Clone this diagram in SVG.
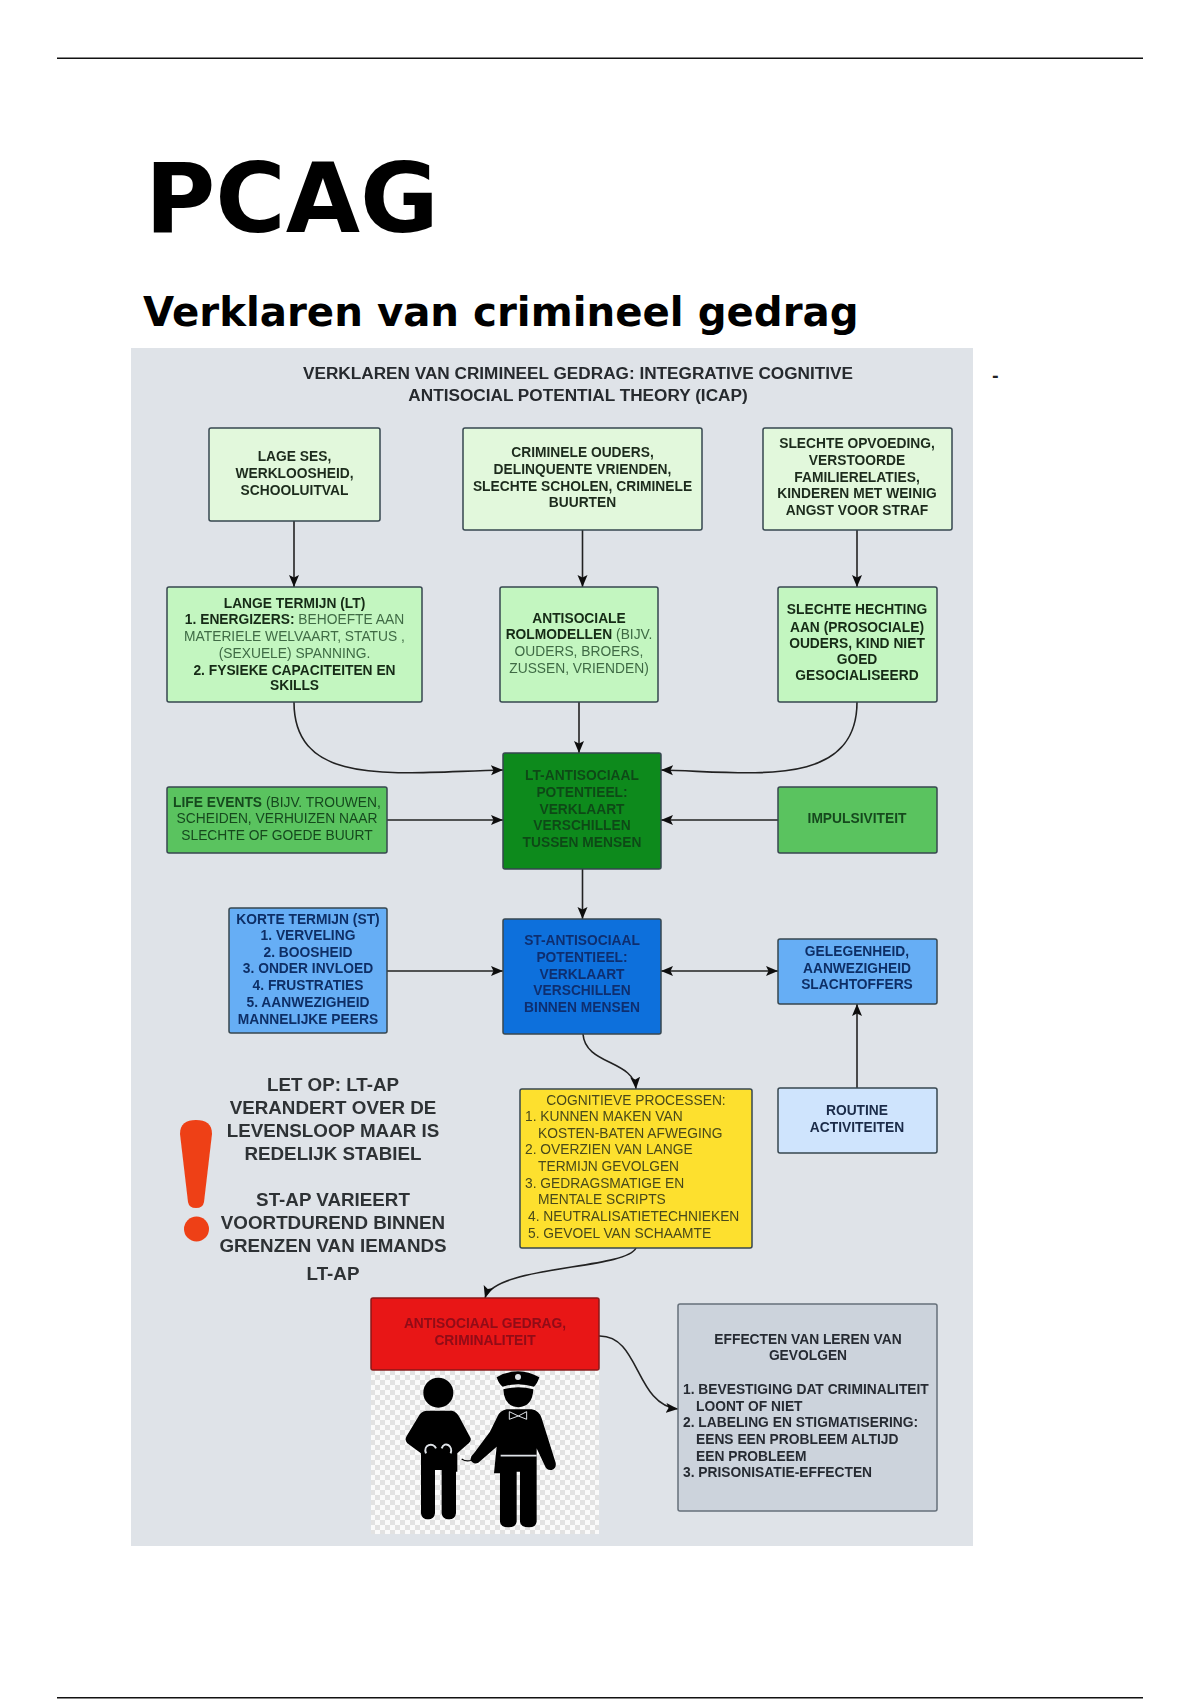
<svg xmlns="http://www.w3.org/2000/svg" width="1200" height="1700" viewBox="0 0 1200 1700">
<style>
.h{font-family:"DejaVu Sans",sans-serif;font-weight:bold;fill:#000}
.t{font-family:"Liberation Sans",Arial,sans-serif;font-size:13.800px;font-weight:bold;text-anchor:middle}
.l{text-anchor:start}
.n{font-weight:normal}
.box{stroke:#37474f;stroke-width:1.5}
.c{fill:none;stroke:#222;stroke-width:1.6}
.note{font-family:"Liberation Sans",Arial,sans-serif;font-size:18.800px;font-weight:bold;text-anchor:middle;fill:#2f3336}
.fig{fill:#000}
</style>
<defs>
<marker id="a" markerUnits="userSpaceOnUse" markerWidth="14" markerHeight="12" refX="12" refY="6" orient="auto-start-reverse"><path d="M0 1L12 6L0 11L2.500 6Z" fill="#111"/></marker>
<pattern id="chk" width="10" height="10" patternUnits="userSpaceOnUse"><rect width="10" height="10" fill="#fafafa"/><rect width="5" height="5" fill="#e2e2e2"/><rect x="5" y="5" width="5" height="5" fill="#e2e2e2"/></pattern>
<filter id="soft" x="-2%" y="-2%" width="104%" height="104%"><feGaussianBlur stdDeviation="0.7"/></filter>
</defs>
<rect width="1200" height="1700" fill="#fff"/>
<g id="page-rules"><rect x="57" y="57.500" width="1086" height="1.500" fill="#111"/><rect x="57" y="1697" width="1086" height="1.500" fill="#111"/></g>
<text class="h" x="145" y="232" font-size="96">PCAG</text>
<text class="h" x="143" y="326" font-size="40.300">Verklaren van crimineel gedrag</text>
<text x="992" y="381" font-family="DejaVu Sans,sans-serif" font-size="16" font-weight="bold" fill="#222">-</text>
<g id="figure" filter="url(#soft)">
<rect id="panel" x="131" y="348" width="842" height="1198" fill="#dfe3e8"/>
<text class="t" style="font-size:17.200px" fill="#26292d" x="578" y="379">VERKLAREN VAN CRIMINEEL GEDRAG: INTEGRATIVE COGNITIVE</text>
<text class="t" style="font-size:17.200px" fill="#26292d" x="578" y="401">ANTISOCIAL POTENTIAL THEORY (ICAP)</text>
<g id="connectors">
<path class="c" marker-end="url(#a)" d="M294 521V587"/>
<path class="c" marker-end="url(#a)" d="M582.500 530V587"/>
<path class="c" marker-end="url(#a)" d="M857 530V587"/>
<path class="c" marker-end="url(#a)" d="M579 702V753"/>
<path class="c" marker-end="url(#a)" d="M294 702C294 790 400 772 503 770"/>
<path class="c" marker-end="url(#a)" d="M857 702C857 790 750 772 661 770"/>
<path class="c" marker-end="url(#a)" d="M387 820H503"/>
<path class="c" marker-end="url(#a)" d="M778 820H661"/>
<path class="c" marker-end="url(#a)" d="M582.500 869V919"/>
<path class="c" marker-end="url(#a)" d="M387 971H503"/>
<path class="c" marker-start="url(#a)" marker-end="url(#a)" d="M661 971H778"/>
<path class="c" marker-end="url(#a)" d="M857 1088V1004"/>
<path class="c" marker-end="url(#a)" d="M583 1034C585 1065 634 1060 636 1089"/>
<path class="c" marker-end="url(#a)" d="M636 1248C625 1270 495 1265 485 1298"/>
<path class="c" marker-end="url(#a)" d="M599 1336C640 1335 635 1405 678 1409"/>
</g>
<g id="n-lage"><rect class="box" x="209" y="428" width="171" height="93" rx="2" fill="#e2f8dc"/><text class="t" fill="#1c2b1c"><tspan x="294.500" y="461">LAGE SES,</tspan><tspan x="294.500" y="478">WERKLOOSHEID,</tspan><tspan x="294.500" y="495">SCHOOLUITVAL</tspan></text></g>
<g id="n-crim"><rect class="box" x="463" y="428" width="239" height="102" rx="2" fill="#e2f8dc"/><text class="t" fill="#1c2b1c"><tspan x="582.500" y="457">CRIMINELE OUDERS,</tspan><tspan x="582.500" y="474">DELINQUENTE VRIENDEN,</tspan><tspan x="582.500" y="491">SLECHTE SCHOLEN, CRIMINELE</tspan><tspan x="582.500" y="507">BUURTEN</tspan></text></g>
<g id="n-opv"><rect class="box" x="763" y="428" width="189" height="102" rx="2" fill="#e2f8dc"/><text class="t" fill="#1c2b1c"><tspan x="857" y="448">SLECHTE OPVOEDING,</tspan><tspan x="857" y="465">VERSTOORDE</tspan><tspan x="857" y="482">FAMILIERELATIES,</tspan><tspan x="857" y="498">KINDEREN MET WEINIG</tspan><tspan x="857" y="515">ANGST VOOR STRAF</tspan></text></g>
<g id="n-lt"><rect class="box" x="167" y="587" width="255" height="115" rx="2" fill="#c3f6c0"/><text class="t" fill="#152a15"><tspan x="294.500" y="608">LANGE TERMIJN (LT)</tspan><tspan x="294.500" y="624">1. ENERGIZERS:  <tspan class="n" fill="#3f6b45">BEHOEFTE AAN</tspan></tspan><tspan class="n" fill="#3f6b45" x="294.500" y="641">MATERIELE WELVAART, STATUS ,</tspan><tspan class="n" fill="#3f6b45" x="294.500" y="658">(SEXUELE) SPANNING.</tspan><tspan x="294.500" y="675">2. FYSIEKE CAPACITEITEN EN</tspan><tspan x="294.500" y="690">SKILLS</tspan></text></g>
<g id="n-rol"><rect class="box" x="500" y="587" width="158" height="115" rx="2" fill="#c3f6c0"/><text class="t" fill="#152a15"><tspan x="579" y="623">ANTISOCIALE</tspan><tspan x="579" y="639">ROLMODELLEN <tspan class="n" fill="#3f6b45">(BIJV.</tspan></tspan><tspan class="n" fill="#3f6b45" x="579" y="656">OUDERS, BROERS,</tspan><tspan class="n" fill="#3f6b45" x="579" y="673">ZUSSEN, VRIENDEN)</tspan></text></g>
<g id="n-hecht"><rect class="box" x="778" y="587" width="159" height="115" rx="2" fill="#c3f6c0"/><text class="t" fill="#152a15"><tspan x="857" y="614">SLECHTE HECHTING</tspan><tspan x="857" y="632">AAN (PROSOCIALE)</tspan><tspan x="857" y="648">OUDERS, KIND NIET</tspan><tspan x="857" y="664">GOED</tspan><tspan x="857" y="680">GESOCIALISEERD</tspan></text></g>
<g id="n-ltap"><rect class="box" x="503" y="753" width="158" height="116" rx="2" fill="#0f8a1f"/><text class="t" fill="#0a4a18"><tspan x="582" y="780">LT-ANTISOCIAAL</tspan><tspan x="582" y="797">POTENTIEEL:</tspan><tspan x="582" y="814">VERKLAART</tspan><tspan x="582" y="830">VERSCHILLEN</tspan><tspan x="582" y="847">TUSSEN MENSEN</tspan></text></g>
<g id="n-life"><rect class="box" x="167" y="787" width="220" height="66" rx="2" fill="#5ac35f"/><text class="t" fill="#16491f"><tspan x="277" y="807">LIFE EVENTS <tspan class="n">(BIJV. TROUWEN,</tspan></tspan><tspan class="n" x="277" y="823">SCHEIDEN, VERHUIZEN NAAR</tspan><tspan class="n" x="277" y="840">SLECHTE OF GOEDE BUURT</tspan></text></g>
<g id="n-imp"><rect class="box" x="778" y="787" width="159" height="66" rx="2" fill="#5ac35f"/><text class="t" fill="#16491f" x="857" y="823">IMPULSIVITEIT</text></g>
<g id="n-kort"><rect class="box" x="229" y="908" width="158" height="125" rx="2" fill="#66aef5"/><text class="t" fill="#0f2f66"><tspan x="308" y="924">KORTE TERMIJN (ST)</tspan><tspan x="308" y="940">1. VERVELING</tspan><tspan x="308" y="957">2. BOOSHEID</tspan><tspan x="308" y="973">3. ONDER INVLOED</tspan><tspan x="308" y="990">4. FRUSTRATIES</tspan><tspan x="308" y="1007">5. AANWEZIGHEID</tspan><tspan x="308" y="1024">MANNELIJKE PEERS</tspan></text></g>
<g id="n-stap"><rect class="box" x="503" y="919" width="158" height="115" rx="2" fill="#1070dc"/><text class="t" fill="#0d2f70"><tspan x="582" y="945">ST-ANTISOCIAAL</tspan><tspan x="582" y="962">POTENTIEEL:</tspan><tspan x="582" y="979">VERKLAART</tspan><tspan x="582" y="995">VERSCHILLEN</tspan><tspan x="582" y="1012">BINNEN MENSEN</tspan></text></g>
<g id="n-gel"><rect class="box" x="778" y="939" width="159" height="65" rx="2" fill="#66aef5"/><text class="t" fill="#0f2f66"><tspan x="857" y="956">GELEGENHEID,</tspan><tspan x="857" y="973">AANWEZIGHEID</tspan><tspan x="857" y="989">SLACHTOFFERS</tspan></text></g>
<g id="n-rout"><rect class="box" x="778" y="1088" width="159" height="65" rx="2" fill="#cfe4fd"/><text class="t" fill="#1a2c48"><tspan x="857" y="1115">ROUTINE</tspan><tspan x="857" y="1132">ACTIVITEITEN</tspan></text></g>
<g id="n-cog"><rect class="box" x="520" y="1089" width="232" height="159" rx="2" fill="#fde02f"/><text class="t n" fill="#4a4a1a" style="font-weight:normal"><tspan x="636" y="1104.500">COGNITIEVE PROCESSEN:</tspan><tspan x="525" y="1121" text-anchor="start">1. KUNNEN MAKEN VAN</tspan><tspan x="538" y="1138" text-anchor="start">KOSTEN-BATEN AFWEGING</tspan><tspan x="525" y="1154" text-anchor="start">2. OVERZIEN VAN LANGE</tspan><tspan x="538" y="1171" text-anchor="start">TERMIJN GEVOLGEN</tspan><tspan x="525" y="1188" text-anchor="start">3. GEDRAGSMATIGE EN</tspan><tspan x="538" y="1204" text-anchor="start">MENTALE SCRIPTS</tspan><tspan x="528" y="1221" text-anchor="start">4.  NEUTRALISATIETECHNIEKEN</tspan><tspan x="528" y="1238" text-anchor="start">5.  GEVOEL VAN SCHAAMTE</tspan></text></g>
<g id="n-ill">
<rect x="371" y="1370" width="228" height="164" fill="url(#chk)"/>
<g class="fig" transform="translate(350 1290) scale(.3333)">
<circle cx="265" cy="308" r="45"/>
<path d="M228 362H305Q322 365 330 385L362 445Q365 455 350 465L322 490V545H318V670Q316 688 297 688Q277 688 275 670V540H255V670Q253 688 234 688Q215 688 213 670V490L172 460Q163 450 170 438L205 380Q212 365 228 362Z"/>
<path d="M440 262Q505 225 568 262Q560 285 552 290Q505 275 458 290Q448 285 440 262Z"/>
<path d="M460 298Q505 285 550 298Q548 350 505 352Q462 350 460 298Z"/>
<path d="M470 358H545Q568 362 575 385L617 518Q620 535 605 540Q590 542 585 528L560 475V695Q558 712 537 712Q512 712 510 695V545H500V695Q498 712 475 712Q452 712 450 695V550H432L440 470L385 518Q370 525 362 510Q360 500 372 490L420 425L442 380Q450 362 470 358Z"/>
<path d="M335 507Q350 517 365 510" fill="none" stroke="#000" stroke-width="4"/>
</g>
<g fill="none" stroke="#dfe3e8" transform="translate(350 1290) scale(.3333)"><path d="M228 490C218 465 250 455 258 475M275 475C285 450 310 470 302 490" stroke-width="6"/><path d="M452 497H560" stroke-width="5"/><path d="M478 365L505 378L530 365V388L505 378L478 388Z" stroke-width="3"/></g>
<circle cx="518" cy="1377" r="3" fill="#dfe3e8"/>
</g>
<g id="n-red"><rect class="box" x="371" y="1298" width="228" height="72" rx="2" fill="#e81313" style="stroke:#8a1a1a"/><text class="t" fill="#8f0f14"><tspan x="485" y="1328">ANTISOCIAAL GEDRAG,</tspan><tspan x="485" y="1345">CRIMINALITEIT</tspan></text></g>
<g id="n-eff"><rect class="box" x="678" y="1304" width="259" height="207" rx="2" fill="#ccd3dc" style="stroke:#66707a"/><text class="t" fill="#272c33"><tspan x="808" y="1344">EFFECTEN VAN LEREN VAN</tspan><tspan x="808" y="1360">GEVOLGEN</tspan><tspan x="683" y="1393.500" text-anchor="start">1.  BEVESTIGING DAT CRIMINALITEIT</tspan><tspan x="696" y="1410.500" text-anchor="start">LOONT OF NIET</tspan><tspan x="683" y="1427" text-anchor="start">2.  LABELING EN STIGMATISERING:</tspan><tspan x="696" y="1444" text-anchor="start">EENS EEN  PROBLEEM ALTIJD</tspan><tspan x="696" y="1461" text-anchor="start">EEN PROBLEEM</tspan><tspan x="683" y="1477" text-anchor="start">3.  PRISONISATIE-EFFECTEN</tspan></text></g>
<g id="warning"><path d="M196 1120C206 1120 212 1124 212 1134L204 1202Q203 1208 196 1208Q189 1208 188 1202L180 1134C180 1124 186 1120 196 1120Z" fill="#ee4016"/><ellipse cx="196.500" cy="1229" rx="12.500" ry="12.500" fill="#ee4016"/></g>
<g id="note"><text class="note"><tspan x="333" y="1091">LET OP: LT-AP</tspan><tspan x="333" y="1114">VERANDERT OVER DE</tspan><tspan x="333" y="1137">LEVENSLOOP MAAR IS</tspan><tspan x="333" y="1160">REDELIJK STABIEL</tspan><tspan x="333" y="1206">ST-AP VARIEERT</tspan><tspan x="333" y="1229">VOORTDUREND BINNEN</tspan><tspan x="333" y="1252">GRENZEN VAN IEMANDS</tspan><tspan x="333" y="1280">LT-AP</tspan></text></g>
</g>
</svg>
